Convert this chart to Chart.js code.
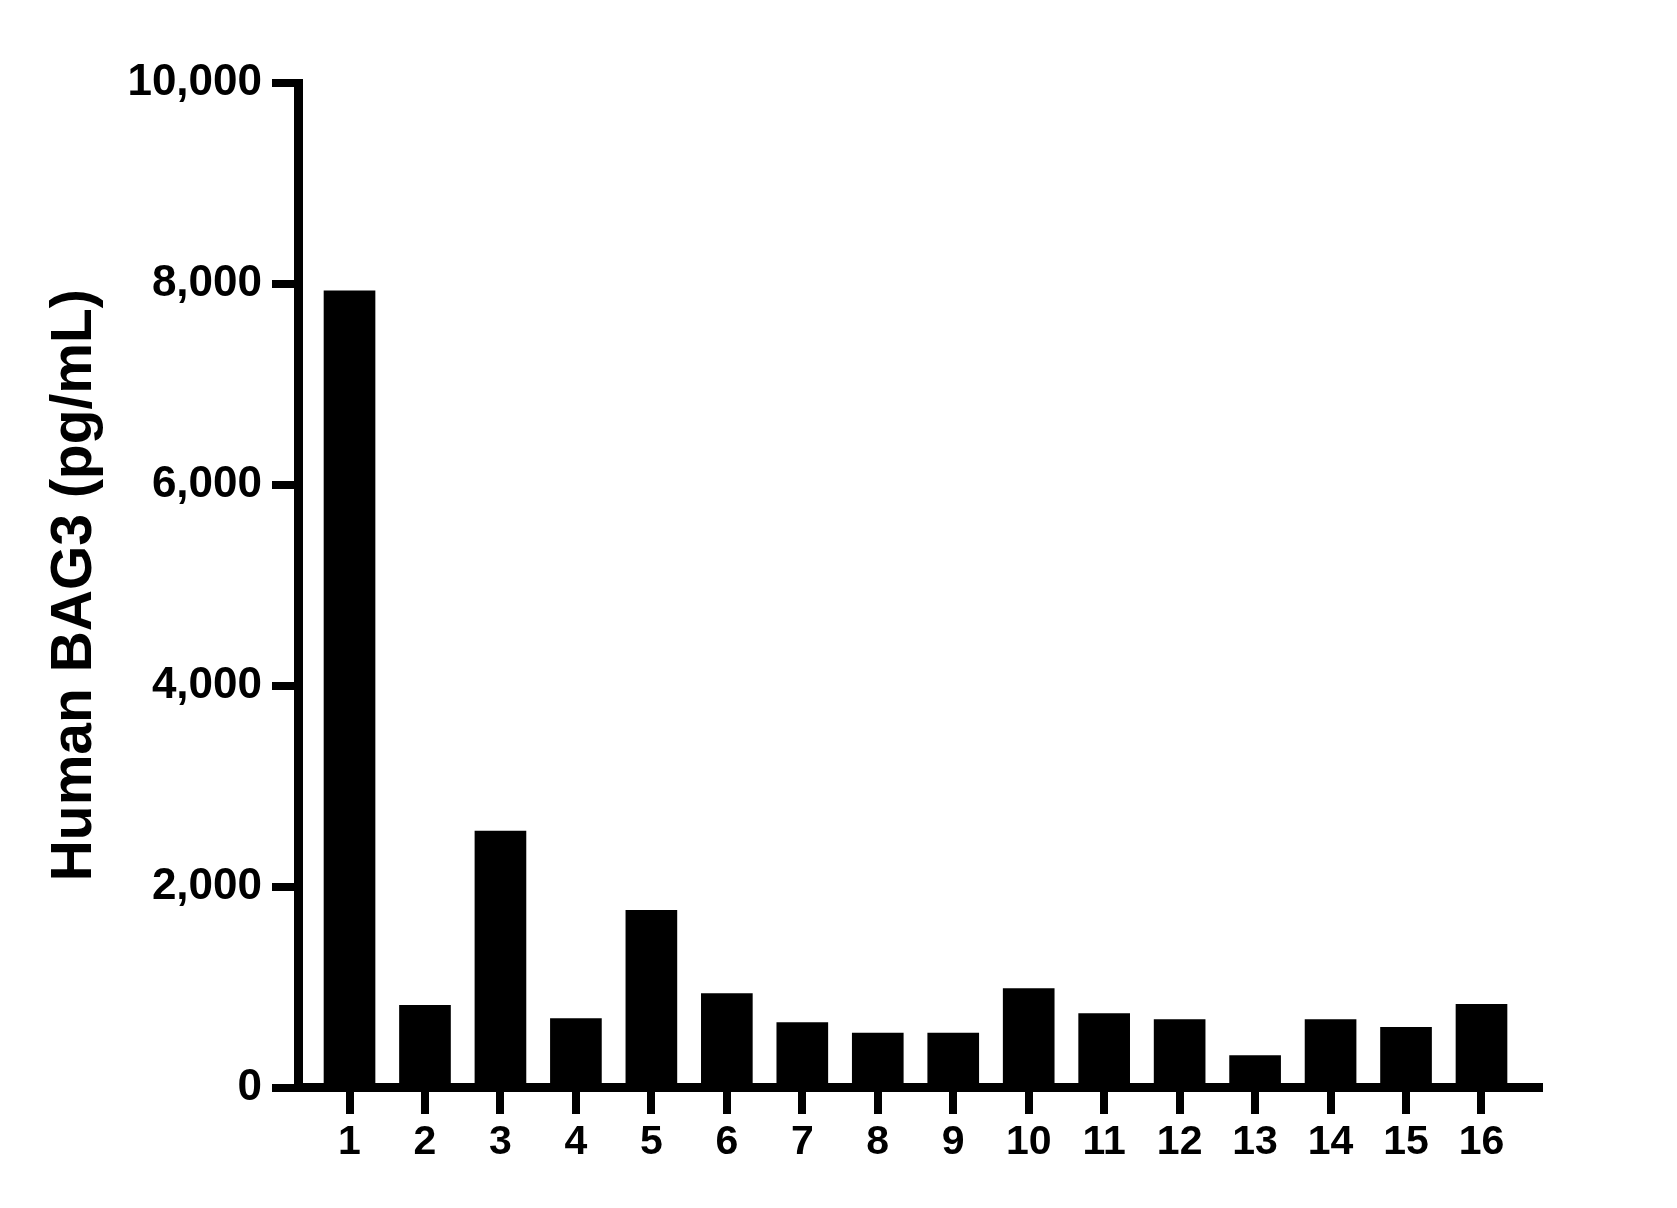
<!DOCTYPE html>
<html>
<head>
<meta charset="utf-8">
<title>Human BAG3</title>
<script src="https://cdn.jsdelivr.net/npm/chart.js@4.4.1/dist/chart.umd.min.js"></script>
<style>
  html, body { margin: 0; padding: 0; background: #fff; }
  #wrap { width: 1677px; height: 1208px; }
</style>
</head>
<body>
<div id="wrap">
  <canvas id="bag3Chart" width="1677" height="1208"></canvas>
</div>
<script>
// Sample numbers shown under the bars
const sampleLabels = ['1', '2', '3', '4', '5', '6', '7', '8', '9', '10', '11', '12', '13', '14', '15', '16'];

// Human BAG3 concentration per sample (pg/mL)
const bag3Values = [7930, 817, 2553, 687, 1763, 936, 647, 541, 541, 986, 737, 677, 319, 677, 598, 827];

// Y axis ticks
const yTickValues = [0, 2000, 4000, 6000, 8000, 10000];

const FONT = '"Liberation Sans", Arial, Helvetica, sans-serif';

// Bars sit on a linear x scale so the gaps at both ends can differ
const barPoints = bag3Values.map((v, i) => ({ x: i + 1, y: v }));

const ctx = document.getElementById('bag3Chart').getContext('2d');
new Chart(ctx, {
  type: 'bar',
  data: {
    datasets: [
      {
        label: 'Human BAG3',
        data: barPoints,
        backgroundColor: '#000000',
        borderWidth: 0,
        barThickness: 51,
      },
    ],
  },
  options: {
    responsive: false,
    animation: false,
    devicePixelRatio: 1,
    locale: 'en-US',
    layout: {
      padding: { top: 83, right: 138, bottom: 0, left: 0 },
    },
    plugins: {
      legend: { display: false },
      tooltip: { enabled: false },
    },
    scales: {
      x: {
        type: 'linear',
        min: 0.324,
        max: 16.762,
        offset: false,
        afterFit: scale => {
          scale.height = 120.5;
        },
        afterBuildTicks: scale => {
          scale.ticks = sampleLabels.map((_, i) => ({ value: i + 1 }));
        },
        grid: {
          display: true,
          offset: false,
          drawOnChartArea: false,
          drawTicks: true,
          tickLength: 26.5,
          lineWidth: 8,
          color: '#000000',
        },
        border: { display: true, width: 9, color: '#000000' },
        ticks: {
          autoSkip: false,
          maxRotation: 0,
          padding: 4,
          color: '#000000',
          font: { family: FONT, size: 41, weight: 'bold' },
          callback: (value, index) => sampleLabels[index],
        },
      },
      y: {
        min: 0,
        max: 10000,
        afterFit: scale => {
          scale.width = 298.5;
        },
        afterBuildTicks: scale => {
          scale.ticks = yTickValues.map(v => ({ value: v }));
        },
        grid: {
          display: true,
          drawOnChartArea: false,
          drawTicks: true,
          tickLength: 26.5,
          lineWidth: 8,
          color: '#000000',
        },
        border: { display: true, width: 9, color: '#000000' },
        ticks: {
          padding: 10,
          color: '#000000',
          font: { family: FONT, size: 44, weight: 'bold' },
          callback: value => value.toLocaleString('en-US'),
        },
        title: {
          display: true,
          text: 'Human BAG3 (pg/mL)',
          color: '#000000',
          padding: { top: 41, bottom: 0 },
          font: { family: FONT, size: 57, weight: 'bold' },
        },
      },
    },
  },
});
</script>
</body>
</html>
